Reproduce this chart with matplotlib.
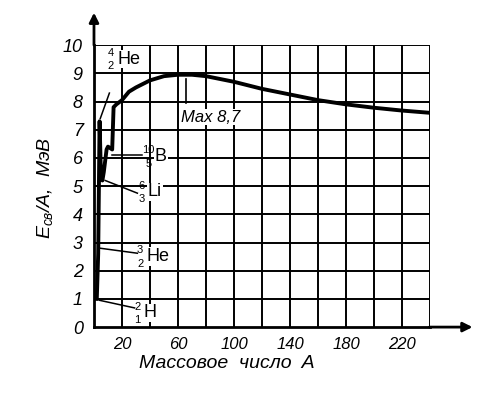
import matplotlib
matplotlib.use("Agg")
import matplotlib.pyplot as plt

plt.rcParams['font.family'] = ['Liberation Sans', 'DejaVu Sans']
plt.rcParams['mathtext.fontset'] = 'custom'
plt.rcParams['mathtext.it'] = 'Liberation Sans:italic'
plt.rcParams['mathtext.rm'] = 'Liberation Sans'

# Data: binding energy per nucleon vs mass number
mass_number = [2, 3, 4, 5, 6, 7, 9, 10, 13, 14, 16, 20, 25, 30, 40, 50, 60, 70, 80,
               100, 120, 140, 160, 180, 200, 220, 240]
energy = [1.0, 2.6, 7.3, 5.3, 5.2, 5.5, 6.3, 6.4, 6.3, 7.8, 7.9, 8.05, 8.35, 8.5, 8.75,
          8.9, 8.95, 8.95, 8.9, 8.7, 8.45, 8.25, 8.05, 7.9, 7.78, 7.68, 7.6]

x_ticks = [20, 60, 100, 140, 180, 220]
x_grid = [20, 40, 60, 80, 100, 120, 140, 160, 180, 200, 220, 240]
y_ticks = list(range(0, 11))

# labels: (mass, Z, symbol, label x, label y, pointer from, pointer to)
isotopes = [
    ("4", "2", "He", 12, 9.5, (4.5, 7.4), (11, 8.3)),
    ("10", "5", "B", 39, 6.05, (13, 6.1), (34, 6.1)),
    ("6", "3", "Li", 34, 4.8, (8, 5.2), (31, 4.75)),
    ("3", "2", "He", 33, 2.5, (4, 2.8), (31, 2.62)),
    ("2", "1", "H", 31, 0.5, (4, 0.95), (29, 0.68)),
]
max_label = "Max 8,7"
max_x = 66
max_y = 8.8

fig = plt.figure(figsize=(4.82, 3.96), dpi=100)
ax = fig.add_axes([0.195, 0.174, 0.697, 0.712])
ax.set_xlim(0, 240)
ax.set_ylim(0, 10)

for gx in x_grid:
    ax.axvline(gx, color='black', lw=1.4, zorder=1)
for gy in y_ticks[1:]:
    ax.axhline(gy, color='black', lw=1.4, zorder=1)

ax.plot(mass_number, energy, color='black', lw=2.8, zorder=3, solid_joinstyle='round')

for s in ['top', 'right']:
    ax.spines[s].set_visible(False)
for s in ['left', 'bottom']:
    ax.spines[s].set_linewidth(2)

ax.set_xticks(x_ticks)
ax.set_xticklabels([str(v) for v in x_ticks], fontstyle='italic', fontsize=12)
ax.set_yticks(y_ticks)
ax.set_yticklabels([str(v) for v in y_ticks], fontstyle='italic', fontsize=13)
ax.tick_params(length=0)
ax.tick_params(axis='x', pad=7)
ax.tick_params(axis='y', pad=8)

# Axis arrows
ax.annotate('', xy=(1.135, 0), xytext=(0.99, 0), xycoords='axes fraction',
            arrowprops=dict(arrowstyle='-|>', color='black', lw=2, mutation_scale=14))
ax.annotate('', xy=(0, 1.125), xytext=(0, 0.99), xycoords='axes fraction',
            arrowprops=dict(arrowstyle='-|>', color='black', lw=2, mutation_scale=14))

for mass, z, sym, lx, ly, p0, p1 in isotopes:
    ax.plot([p0[0], p1[0]], [p0[1], p1[1]], color='black', lw=1.1, zorder=3, clip_on=False)
    ax.text(lx, ly + 0.22, mass, fontsize=8, ha='center', va='center', zorder=4)
    ax.text(lx, ly - 0.25, z, fontsize=8, ha='center', va='center', zorder=4)
    ax.text(lx + 4.5, ly, sym, fontsize=13, ha='left', va='center', zorder=4,
            bbox=dict(facecolor='white', edgecolor='none', pad=0.5))

ax.plot([max_x, max_x], [max_y, 7.95], color='black', lw=1.2, zorder=3)
ax.text(max_x - 4, 7.45, max_label, fontsize=12, fontstyle='italic', ha='left', va='center',
        zorder=4, bbox=dict(facecolor='white', edgecolor='none', pad=0.5))

fig.text(0.47, 0.083, 'Массовое  число  A', fontsize=14, fontstyle='italic',
         ha='center', va='center')
fig.text(0.093, 0.525, r'$E_{св}$/A,  МэВ', fontsize=14, fontstyle='italic',
         ha='center', va='center', rotation=90)

fig.savefig('out.png', dpi=100)
